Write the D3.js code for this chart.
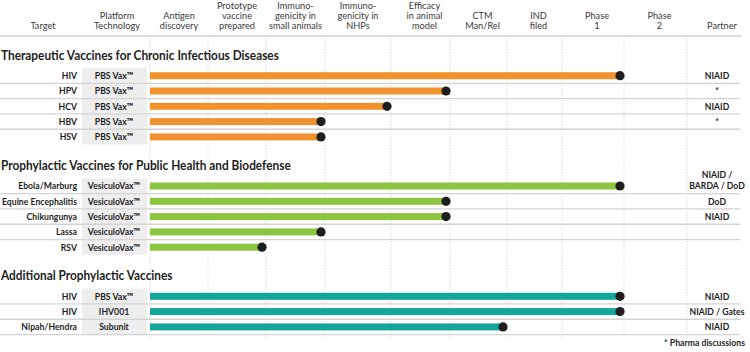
<!DOCTYPE html>
<html><head><meta charset="utf-8">
<script src="https://cdn.jsdelivr.net/npm/d3@7"></script>
<style>
body{margin:0;background:#fff;}
svg{display:block;}
text{font-family:"Lato","Open Sans",sans-serif;}
</style></head>
<body>
<script>
// ---- data ----
const stageHeaders = [
  ["Antigen","discovery"],
  ["Prototype","vaccine","prepared"],
  ["Immuno-","genicity in","small animals"],
  ["Immuno-","genicity in","NHPs"],
  ["Efficacy","in animal","model"],
  ["CTM","Man/Rel"],
  ["IND","filed"],
  ["Phase","1"],
  ["Phase","2"]
];
const sectionTitles = [
  "Therapeutic Vaccines for Chronic Infectious Diseases",
  "Prophylactic Vaccines for Public Health and Biodefense",
  "Additional Prophylactic Vaccines"
];
const targets = [
  ["HIV","HPV","HCV","HBV","HSV"],
  ["Ebola/Marburg","Equine Encephalitis","Chikungunya","Lassa","RSV"],
  ["HIV","HIV","Nipah/Hendra"]
];
const platforms = [
  ["PBS Vax\u2122","PBS Vax\u2122","PBS Vax\u2122","PBS Vax\u2122","PBS Vax\u2122"],
  ["VesiculoVax\u2122","VesiculoVax\u2122","VesiculoVax\u2122","VesiculoVax\u2122","VesiculoVax\u2122"],
  ["PBS Vax\u2122","IHV001","Subunit"]
];
// number of completed stages
const progress = [
  [8,5,4,3,3],
  [8,5,5,3,2],
  [8,8,6]
];
const partners = [
  [["NIAID"],["*"],["NIAID"],["*"],[]],
  [["NIAID /","BARDA / DoD"],["DoD"],["NIAID"],[],[]],
  [["NIAID"],["NIAID / Gates"],["NIAID"]]
];
const sectionColors = ["#f0922e","#8dc540","#13a79b"];
const footnote = "* Pharma discussions";

// ---- layout ----
const W = 750, H = 352;
const svg = d3.select("body").append("svg").attr("width",W).attr("height",H);

// calibrate horizontal condensing for each text style
function measure(str, size, weight){
  const t = svg.append("text").attr("font-size",size).attr("font-weight",weight).text(str);
  const w = t.node().getComputedTextLength(); t.remove(); return w;
}
const styles = {
  head:  {size:9.6, weight:400, fill:"#3a3a3a"},
  label: {size:9.8, weight:700, fill:"#1e1e1e"},
  title: {size:13.2, weight:700, fill:"#1e1e1e"}
};
styles.head.sx  = 53  / measure("small animals", styles.head.size, styles.head.weight);
styles.label.sx = 75  / measure("Equine Encephalitis", styles.label.size, styles.label.weight);
styles.title.sx = 278 / measure(sectionTitles[0], styles.title.size, styles.title.weight);

function txt(g, style, x, y, anchor, str){
  const st = styles[style];
  return g.append("text")
    .attr("transform",`translate(${x},${y}) scale(${st.sx},1)`)
    .attr("text-anchor",anchor).attr("font-size",st.size)
    .attr("font-weight",st.weight).attr("fill",st.fill).text(str);
}

const x = d3.scaleLinear()
  .domain(d3.range(10))
  .range([150,208,266,325,391,450,507,562,624,687]);
const rowH = 15.3;
const secY = d3.scaleLinear().domain([0,1]).range([55,165.3]);
const rowY = (s,i) => secY(s) + 20.7 + i*rowH;

// header
const hdr = svg.append("g");
const hdrBase = 28.5, lh = 10;
function hdrText(cx, lines){
  lines.forEach((t,k)=> txt(hdr,"head",cx,hdrBase-(lines.length-1-k)*lh,"middle",t));
}
hdrText(43,["Target"]);
hdrText(117,["Platform","Technology"]);
stageHeaders.forEach((l,i)=>hdrText((x(i)+x(i+1))/2 + (i>=4?4:0), l));
hdrText(722,["Partner"]);
svg.append("line").attr("x1",0).attr("x2",742).attr("y1",36).attr("y2",36)
  .attr("stroke","#dcdcdc").attr("stroke-width",2);

// vertical dotted grid
svg.append("g").selectAll("line").data(d3.range(10)).join("line")
  .attr("x1",d=>x(d)).attr("x2",d=>x(d)).attr("y1",37).attr("y2",340)
  .attr("stroke","#d0d0d0").attr("stroke-width",0.8).attr("stroke-dasharray","1.5,1.5");

sectionTitles.forEach((title,s)=>{
  const g = svg.append("g");
  const n = targets[s].length;
  g.append("rect").attr("x",82).attr("width",65)
    .attr("y",rowY(s,0)-rowH/2).attr("height",n*rowH).attr("fill","#eeeeef");
  for(let i=0;i<n;i++){
    if(i<n-1 || s===sectionTitles.length-1){
      const yy = rowY(s,i)+rowH/2;
      g.append("line").attr("x1",0).attr("x2",740).attr("y1",yy).attr("y2",yy)
        .attr("stroke","#d4d4d4").attr("stroke-width",1.3);
    }
  }
  txt(g,"title",1,secY(s)+4.6,"start",title);

  const rows = d3.range(n);
  rows.forEach(i=>{
    txt(g,"label",77,rowY(s,i)+3.4,"end",targets[s][i]);
    txt(g,"label",114,rowY(s,i)+3.4,"middle",platforms[s][i]);
  });
  g.selectAll("rect.bar").data(rows).join("rect").attr("class","bar")
    .attr("x",x(0)).attr("y",i=>rowY(s,i)-3.5).attr("height",7)
    .attr("width",i=>x(progress[s][i])-4-x(0)).attr("fill",sectionColors[s]);
  g.selectAll("circle").data(rows).join("circle")
    .attr("cx",i=>x(progress[s][i])-4).attr("cy",i=>rowY(s,i)).attr("r",4.6)
    .attr("fill","#1e1e1e");
  rows.forEach(i=>{
    const p = partners[s][i];
    p.forEach((t,k)=> txt(g,"label",717,rowY(s,i)+3.4-(p.length-1-k)*11,"middle",t));
  });
});

txt(svg,"label",745,346,"end",footnote);
</script>
</body></html>
